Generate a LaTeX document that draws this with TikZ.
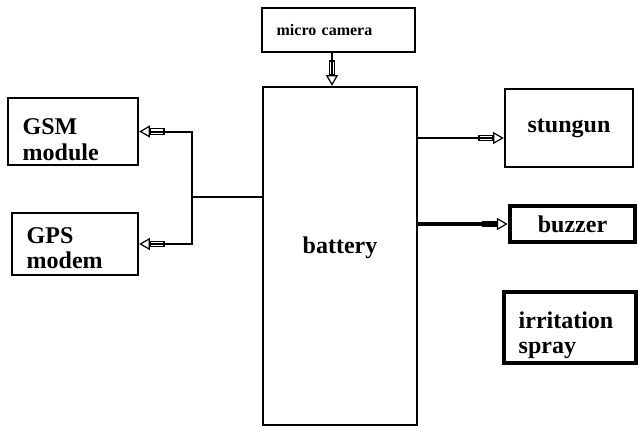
\documentclass[tikz,border=0pt]{standalone}
\usepackage{fontspec}
\setmainfont{Liberation Serif}
\usetikzlibrary{arrows.meta}
\tikzset{
  % --- blocks ---
  unit/.style={draw=black, line width=1.8pt, fill=white, inner xsep=11pt,
               inner ysep=0pt, font=\bfseries\fontsize{18}{19}\selectfont},
  unitb/.style={unit, line width=3.6pt},
  % --- connectors (hollow block arrow at the end) ---
  wire/.style={line width=1.5pt, draw=black},
  link/.style={wire, -{Rectangle[open,length=11pt,width=5pt,line width=0.9pt]
                       Triangle[open,length=8pt,width=9pt,line width=0.9pt]}},
  linkb/.style={link, line width=3pt},
}

\begin{document}
\begin{tikzpicture}[x=0.75pt,y=-0.75pt]
  \useasboundingbox (0,0) rectangle (638,428);
  % --- camera and battery ---
  \node[unit, font=\bfseries\fontsize{12}{13}\selectfont, text width=92.75pt,
        align=left, minimum height=33pt] (cam) at (338.5,30) {micro camera};
  \node[unit, minimum width=115.5pt, minimum height=253.5pt] (bat) at (340,256)
        {\rule[-16pt]{0pt}{16pt}battery};

  % --- left side: communication ---
  \node[unit, text width=75.5pt, align=left, minimum height=50.25pt] (gsm) at (73,131.5)
        {\rule{0pt}{24pt}GSM\\module};
  \node[unit, text width=72.5pt, align=left, minimum height=46.5pt] (gps) at (75,244)
        {\rule{0pt}{18pt}GPS\\modem};

  % --- right side: defence units ---
  \node[unit, minimum width=96pt, minimum height=58.5pt] (stun) at (569,128) {stungun};
  \node[unitb, minimum width=93.75pt, minimum height=27pt] (buz) at (572.5,224) {buzzer};
  \node[unitb, text width=77pt, align=left, minimum height=53.25pt] (spray) at (570,327.5)
        {\rule{0pt}{24pt}irritation\\spray};

  % --- camera -> battery ---
  \coordinate (camout) at ([xshift=-4.9pt]cam.south);
  \draw[link] (camout) -- (camout |- bat.north);

  % --- battery -> GSM / GPS through one junction ---
  \coordinate (hub) at (192,197);
  \draw[wire] (hub -| bat.west) -- (hub);
  \draw[link] (hub) |- (gsm.east);
  \draw[link] (hub) |- (gps.east);

  % --- battery -> stungun / buzzer ---
  \coordinate (stunin) at ([yshift=-7.5pt]stun.west);
  \draw[link] (stunin -| bat.east) -- (stunin);
  \draw[linkb] (buz.west -| bat.east) -- (buz.west);
\end{tikzpicture}
\end{document}
